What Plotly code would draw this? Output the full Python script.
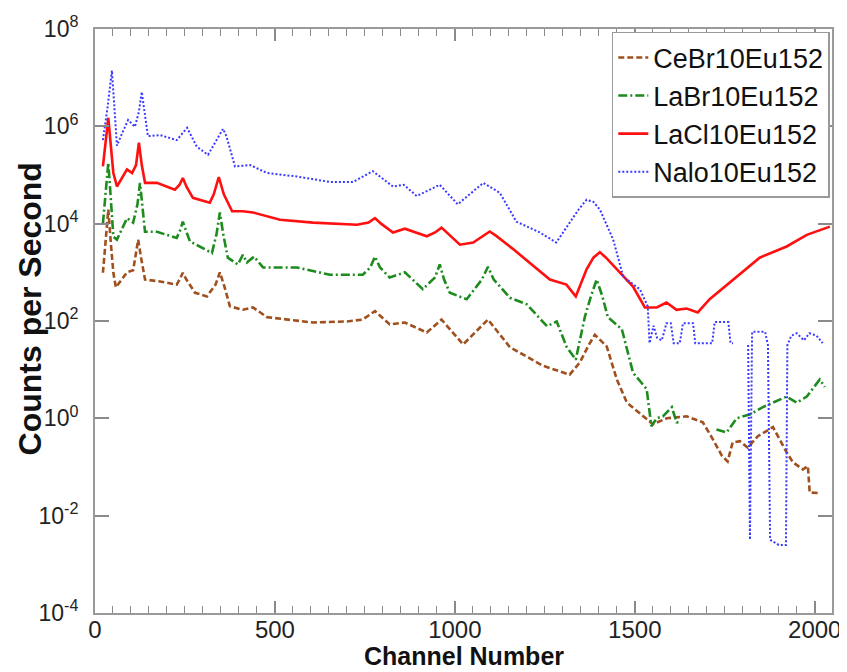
import plotly.graph_objects as go

# ---------------- data ----------------
nalo_ch = [22, 35, 47, 55, 61, 75, 92, 111, 122, 130, 138, 147, 181, 227, 256, 283, 314, 340,
           356, 365, 389, 431, 478, 561, 653, 717, 772, 828, 858, 894, 958, 1008, 1079, 1125,
           1171, 1236, 1282, 1319, 1345, 1366, 1385, 1403, 1440, 1468, 1514, 1536, 1541, 1552,
           1562, 1575, 1588, 1600, 1608, 1625, 1634, 1662, 1668, 1715, 1722, 1760, 1766, 1773,
           1795, 1815, 1820, 1826, 1862, 1870, 1876, 1900, 1920, 1924, 1935, 1950, 1970, 1985,
           2005, 2022]
nalo_cps = [5.2e5, 2.5e6, 1.4e7, 2.0e6, 4.0e5, 7.1e5, 1.35e6, 9.8e5, 2.0e6, 5.1e6, 2.0e6,
            6.3e5, 6.6e5, 5.2e5, 9.3e5, 3.8e5, 2.6e5, 5.6e5, 8.9e5, 6.3e5, 1.5e5, 1.6e5, 1.1e5,
            9.3e4, 7.2e4, 7.2e4, 1.2e5, 5.8e4, 6.3e4, 3.7e4, 6.3e4, 2.5e4, 6.9e4, 4.3e4, 1.1e4,
            6.6e3, 4.1e3, 1.05e4, 2.0e4, 3.1e4, 2.8e4, 1.95e4, 4.7e3, 8.1e2, 4.5e2, 2.0e2, 35,
            80, 45, 40, 90, 90, 35, 35, 90, 90, 35, 35, 95, 95, 35, 35, None, 32, 0.0032, 60, 60,
            32, 0.0032, 0.0025, 0.0025, 32, 50, 56, 40, 56, 50, 35]

lacl_ch = [22, 30, 37, 44, 51, 61, 89, 103, 114, 122, 130, 139, 172, 222, 235, 244, 255, 272,
           319, 330, 344, 358, 381, 411, 439, 514, 606, 728, 760, 778, 795, 828, 861, 922, 945,
           963, 980, 1014, 1051, 1080, 1097, 1115, 1162, 1264, 1310, 1336, 1366, 1385, 1403,
           1420, 1458, 1495, 1528, 1561, 1588, 1616, 1644, 1675, 1708, 1773, 1847, 1922, 1978,
           2042]
lacl_cps = [1.5e5, 5.0e5, 1.5e6, 4.0e5, 1.1e5, 5.8e4, 1.3e5, 1.1e5, 1.6e5, 4.6e5, 1.6e5, 6.9e4,
            6.9e4, 5.0e4, 6.3e4, 8.7e4, 5.6e4, 3.4e4, 2.7e4, 4.0e4, 9.1e4, 4.0e4, 1.8e4, 1.8e4,
            1.7e4, 1.2e4, 1.05e4, 9.5e3, 1.05e4, 1.3e4, 1.0e4, 6.6e3, 7.9e3, 5.5e3, 6.6e3, 8.3e3,
            6.3e3, 3.7e3, 4.1e3, 5.6e3, 6.9e3, 5.6e3, 3.0e3, 7.1e2, 5.6e2, 3.2e2, 1.15e3, 2.0e3,
            2.6e3, 2.0e3, 9.8e2, 5.1e2, 1.9e2, 1.9e2, 2.4e2, 1.7e2, 1.8e2, 1.5e2, 2.8e2, 7.1e2,
            2.0e3, 3.4e3, 5.9e3, 8.7e3]

labr_ch = [22, 30, 37, 44, 51, 61, 89, 106, 118, 125, 132, 139, 172, 227, 236, 244, 253, 264,
           325, 338, 347, 356, 369, 397, 411, 422, 442, 467, 561, 653, 744, 765, 778, 792, 819,
           861, 911, 945, 958, 970, 986, 1033, 1075, 1092, 1108, 1153, 1200, 1256, 1283, 1310,
           1336, 1361, 1378, 1394, 1410, 1425, 1464, 1495, 1533, 1546, 1561, 1578, 1603, 1616,
           1630, 1680, 1727, 1755, 1783, 1819, 1856, 1884, 1922, 1950, 1978, 2014, 2028]
labr_cps = [1.0e4, 5.0e4, 1.8e5, 3.2e4, 5.4e3, 4.7e3, 1.3e4, 1.05e4, 2.5e4, 6.9e4, 2.0e4,
            6.8e3, 6.8e3, 5.1e3, 7.1e3, 1.1e4, 7.1e3, 4.3e3, 2.5e3, 6.3e3, 1.7e4, 6.3e3, 2.0e3,
            1.45e3, 2.3e3, 1.6e3, 2.1e3, 1.26e3, 1.26e3, 8.9e2, 8.9e2, 1.26e3, 2.1e3, 1.26e3,
            7.8e2, 1.0e3, 4.5e2, 7.9e2, 1.45e3, 7.1e2, 3.8e2, 2.8e2, 7.1e2, 1.3e3, 7.1e2, 3.0e2,
            2.2e2, 78, 98, 30, 16, 1.2e2, 3.2e2, 7.1e2, 3.2e2, 1.2e2, 68, 8.7, 4.0, 0.69, 1.0,
            1.1, 1.7, 0.83, 0.8, None, 0.59, 0.51, 1.0, 1.2, 1.7, 2.1, 2.8, 2.1, 2.8, 6.3, 4.4]

cebr_ch = [22, 30, 37, 44, 51, 58, 89, 106, 112, 120, 128, 139, 181, 227, 235, 244, 254, 278,
           311, 335, 347, 358, 375, 411, 439, 478, 606, 700, 744, 778, 819, 861, 922, 963, 1023,
           1092, 1153, 1245, 1319, 1347, 1372, 1389, 1405, 1422, 1450, 1478, 1550, 1589, 1644,
           1689, 1717, 1742, 1758, 1772, 1792, 1814, 1842, 1884, 1922, 1939, 1967, 1981, 1986,
           2014]
cebr_cps = [9.8e2, 4.0e3, 1.95e4, 4.0e3, 9.8e2, 4.9e2, 1.0e3, 1.1e3, 2.0e3, 4.7e3, 2.0e3,
            7.1e2, 6.5e2, 5.6e2, 7.1e2, 9.8e2, 7.1e2, 3.8e2, 3.2e2, 5.6e2, 1.0e3, 5.6e2, 2.0e2,
            1.7e2, 1.9e2, 1.2e2, 93, 98, 107, 160, 85, 93, 58, 107, 33, 107, 29, 12, 7.9, 14, 32,
            52, 40, 30, 6.3, 2.1, 0.76, 1.0, 1.1, 0.83, 0.37, 0.17, 0.13, 0.32, 0.34, 0.25, 0.43,
            0.66, 0.20, 0.126, 0.089, 0.105, 0.030, 0.029]

series_names = ["CeBr10Eu152", "LaBr10Eu152", "LaCl10Eu152", "Nalo10Eu152"]
x_tickvals = [0, 500, 1000, 1500, 2000]
y_exponents = [-4, -2, 0, 2, 4, 6, 8]
y_tickvals = [10.0 ** e for e in y_exponents]
y_ticktext = ["10<sup>%d</sup>" % e for e in y_exponents]

# ---------------- figure ----------------
fig = go.Figure()
fig.add_trace(go.Scatter(x=cebr_ch, y=cebr_cps, mode="lines", name=series_names[0],
                         legendgroup="a", connectgaps=False,
                         line=dict(color="#A0501E", width=2.6, dash="6px,3px")))
fig.add_trace(go.Scatter(x=labr_ch, y=labr_cps, mode="lines", name=series_names[1],
                         legendgroup="b", connectgaps=False,
                         line=dict(color="#1E8B1E", width=2.6, dash="9px,3px,2px,3px")))
fig.add_trace(go.Scatter(x=lacl_ch, y=lacl_cps, mode="lines", name=series_names[2],
                         legendgroup="c", connectgaps=False,
                         line=dict(color="#FF1010", width=2.6)))
fig.add_trace(go.Scatter(x=nalo_ch, y=nalo_cps, mode="lines", name=series_names[3],
                         legendgroup="d", connectgaps=False,
                         line=dict(color="#3A3AFF", width=2, dash="2px,2px")))

axis_common = dict(showgrid=False, zeroline=False, showline=True, linecolor="#9a9a9a",
                   linewidth=2, mirror="ticks", ticks="inside", tickcolor="#8a8a8a",
                   tickwidth=1.5, automargin=False)

fig.update_layout(
    width=847, height=672,
    margin=dict(l=87, r=23, t=21, b=67),
    paper_bgcolor="white", plot_bgcolor="white",
    font=dict(family="Arial, Liberation Sans, sans-serif", color="#222"),
    xaxis=dict(range=[0, 2048], tickvals=x_tickvals, ticklen=12,
               tickfont=dict(size=24, color="#222"), ticklabelstandoff=-6,
               minor=dict(dtick=50, ticks="inside", ticklen=7, tickcolor="#8a8a8a",
                          tickwidth=1.2, showgrid=False),
               **axis_common),
    yaxis=dict(type="log", range=[-4, 8], tickvals=y_tickvals, ticktext=y_ticktext,
               ticklen=14, tickfont=dict(size=23, color="#222"), ticklabelstandoff=10,
               **axis_common),
    legend=dict(x=0.997, xanchor="right", y=0.995, yanchor="top",
                bgcolor="white", bordercolor="#9a9a9a", borderwidth=1.5,
                font=dict(size=27, color="#111"), itemwidth=30, tracegroupgap=0,
                traceorder="normal"),
    annotations=[
        dict(text="Channel Number", xref="paper", yref="paper", x=0.5, y=-0.073,
             xanchor="center", yanchor="middle", showarrow=False,
             font=dict(size=25, weight="bold", color="#111")),
        dict(text="Counts per Second", xref="paper", yref="paper", x=-0.088, y=0.52,
             xanchor="center", yanchor="middle", textangle=-90, showarrow=False,
             font=dict(size=32, weight="bold", color="#111")),
    ],
    showlegend=True,
)

fig.write_html("out.html")
